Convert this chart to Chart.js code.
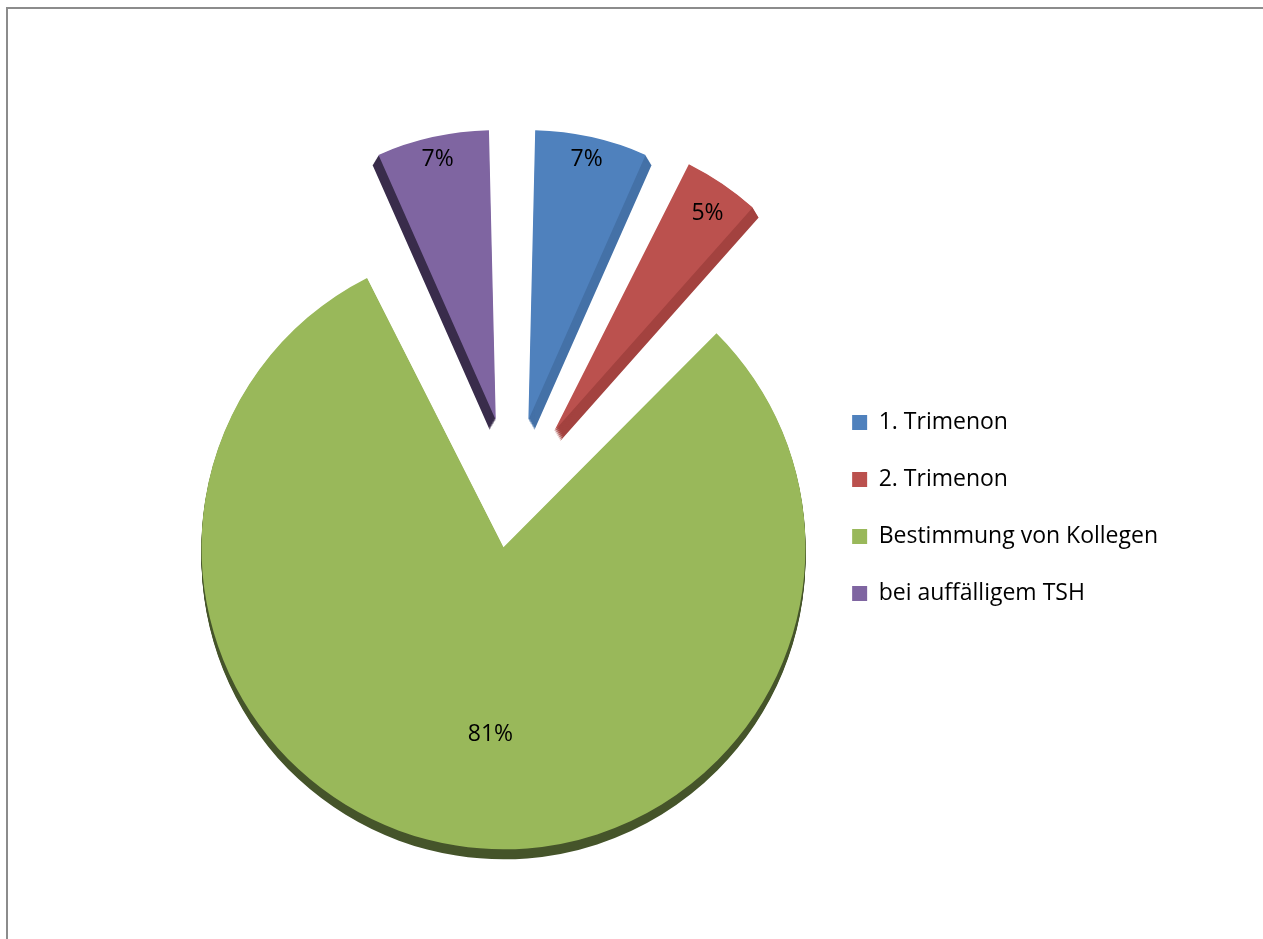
<!DOCTYPE html>
<html>
<head>
<meta charset="utf-8">
<script src="https://cdn.jsdelivr.net/npm/chart.js@4.4.1/dist/chart.umd.min.js"></script>
<style>
  html, body { margin: 0; padding: 0; background: #fff; overflow: hidden; }
  .frame { position: absolute; left: 6px; top: 7px; width: 1400px; height: 1100px; border: 2px solid #8c8c8c; }
  #pie { position: absolute; left: 0; top: 0; }
</style>
</head>
<body>
<div class="frame"></div>
<canvas id="pie" width="1263" height="939"></canvas>
<script>
const labels = ["1. Trimenon", "2. Trimenon", "Bestimmung von Kollegen", "bei auffälligem TSH"];
const shares = [7, 5, 81, 7];
const sliceColors = ["#4f81bd", "#bb514e", "#99b85a", "#7f65a1"];
const wallColors = ["#4471a7", "#a3423f", "#45542a", "#392c4b"];
const explode = [299, 300, 220, 299];
// % label placement inside each slice: share of the radius, and a small turn (deg)
const labelRadius = [0.92, 0.89, 0.62, 0.92];
const labelTurn = [0, 1, -5, 0];

const FONT = "'Open Sans', 'Noto Sans', sans-serif";

// approximate spot of an exploded arc (moved offset/4 along the bisector,
// radius grown by (offset/4) * fix) - only used to place the % labels
function arcShift(arc) {
  const t = (arc.options.offset || 0) / 4;
  const circ = arc.endAngle - arc.startAngle;
  const mid = (arc.startAngle + arc.endAngle) / 2;
  const fix = 1 - Math.sin(Math.min(Math.PI, circ));
  return {
    x: arc.x + Math.cos(mid) * t,
    y: arc.y + Math.sin(mid) * t,
    r: arc.outerRadius + t * fix,
    mid,
  };
}

// thick "3d" side under each slice: the arc's own draw(), repeated a few px
// lower in a darker colour; the small slices lean outwards a little
const pieWalls = {
  id: "pieWalls",
  beforeDatasetsDraw(chart) {
    const ctx = chart.ctx;
    chart.getDatasetMeta(0).data.forEach((arc, i) => {
      const mid = (arc.startAngle + arc.endAngle) / 2;
      const small = arc.endAngle - arc.startAngle < Math.PI;
      const lean = small ? Math.max(-6, Math.min(6, Math.cos(mid) * 28)) : 0;
      const wall = Object.create(arc);
      wall.options = Object.assign({}, arc.options, { backgroundColor: wallColors[i], borderWidth: 0 });
      for (let s = 1; s <= 10; s++) {
        ctx.save();
        ctx.translate(lean * s / 10, s);
        wall.draw(ctx);
        ctx.restore();
      }
    });
  }
};

const sliceLabels = {
  id: "sliceLabels",
  afterDatasetsDraw(chart) {
    const ctx = chart.ctx;
    const total = shares.reduce((a, b) => a + b, 0);
    ctx.save();
    ctx.font = "23px " + FONT;
    ctx.fillStyle = "#000";
    ctx.textAlign = "center";
    ctx.textBaseline = "middle";
    chart.getDatasetMeta(0).data.forEach((arc, i) => {
      const c = arcShift(arc);
      const r = c.r * labelRadius[i];
      const a = c.mid + labelTurn[i] * Math.PI / 180;
      const txt = Math.round(shares[i] / total * 100) + "%";
      ctx.fillText(txt, c.x + Math.cos(a) * r, c.y + Math.sin(a) * r);
    });
    ctx.restore();
  }
};

// legend column sits a bit lower than the pie centre
const legendNudge = {
  id: "legendNudge",
  afterLayout(chart) {
    chart.legend.top += 15;
    chart.legend.bottom += 15;
    chart.legend.left += 2;
    chart.legend.right += 2;
  }
};

const ctx = document.getElementById("pie").getContext("2d");
const pieChart = new Chart(ctx, {
  type: "pie",
  data: {
    labels: labels,
    datasets: [
      {
        data: shares,
        backgroundColor: sliceColors,
        borderWidth: 0,
        offset: explode,
        hoverOffset: 0,
        clip: false,
      },
    ],
  },
  options: {
    responsive: false,
    animation: false,
    events: [],
    radius: 247,
    layout: {
      padding: { left: 208, right: 97, top: 60, bottom: 13 },
    },
    plugins: {
      tooltip: { enabled: false },
      legend: {
        position: "right",
        labels: {
          boxWidth: 15,
          boxHeight: 15,
          padding: 34,
          color: "#000",
          font: { family: FONT, size: 23 },
        },
      },
    },
  },
  plugins: [pieWalls, sliceLabels, legendNudge],
});
</script>
</body>
</html>
